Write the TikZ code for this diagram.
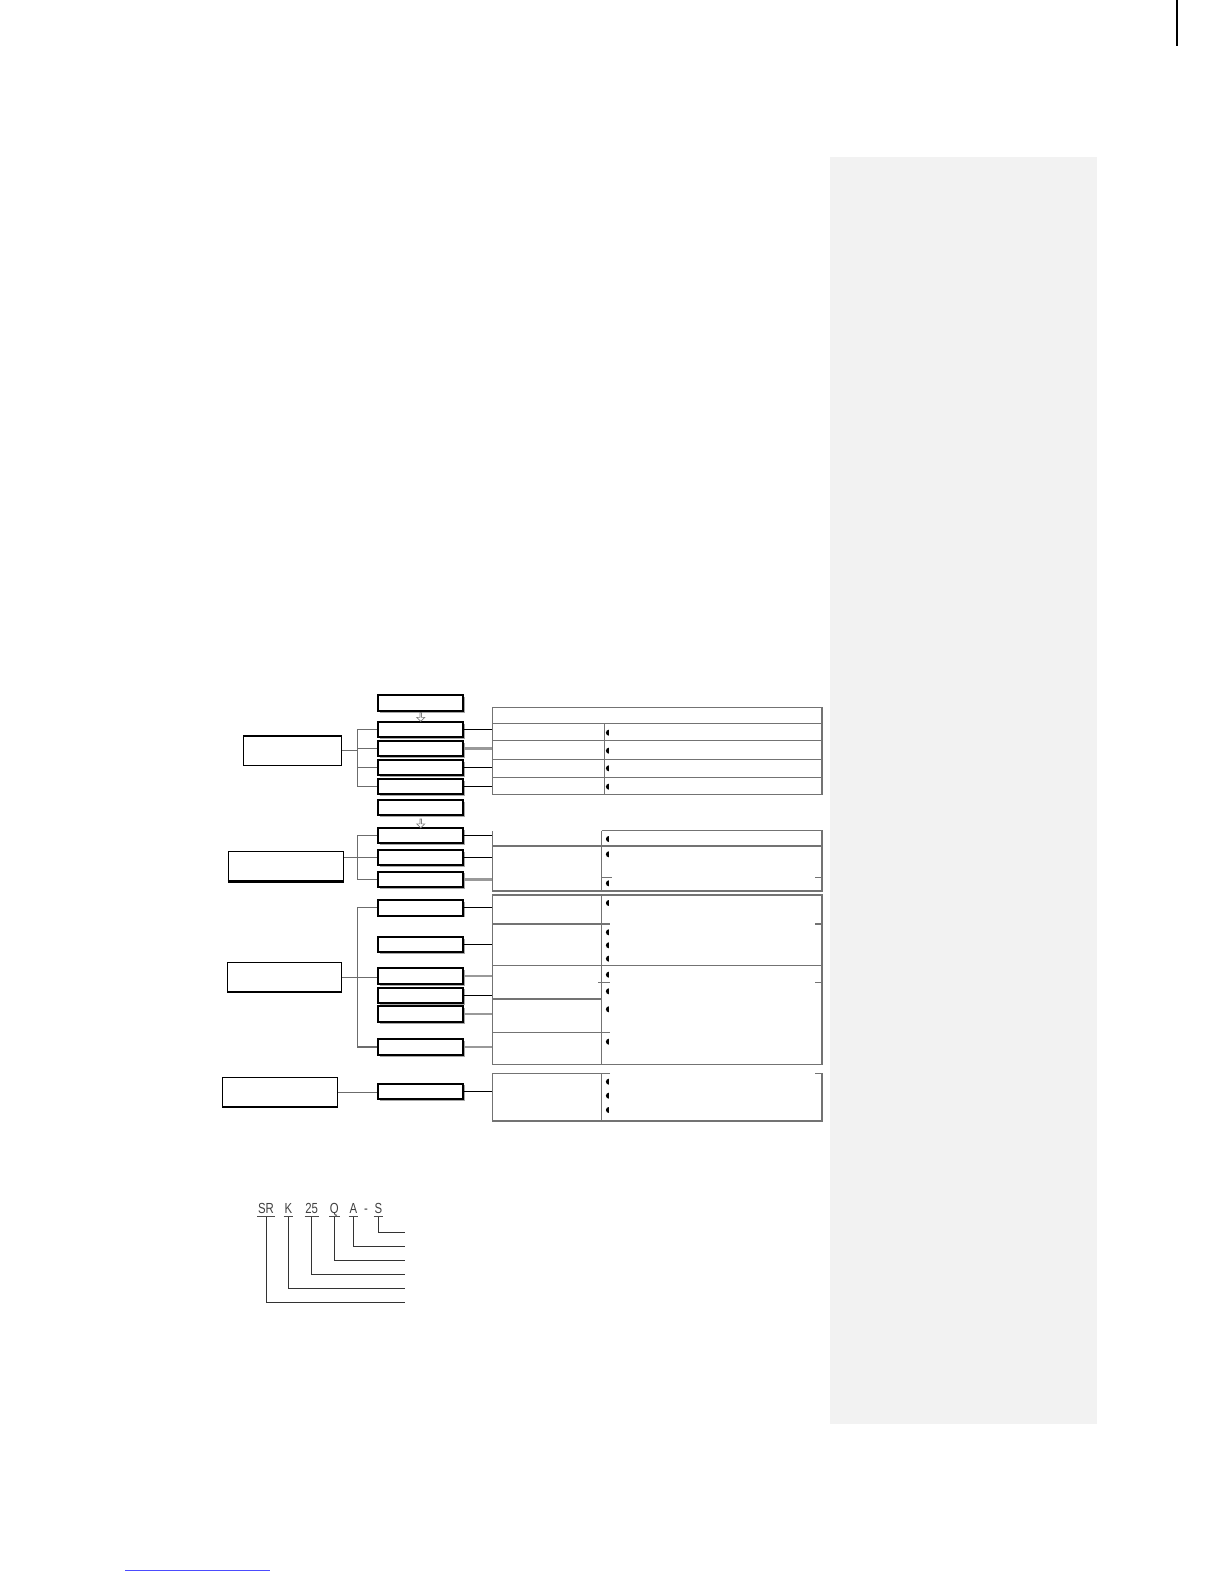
\documentclass[tikz,border=0pt]{standalone}
\usepackage{fontspec}
\newfontfamily\codefont[FakeStretch=0.78]{Liberation Sans}
\usetikzlibrary{positioning}
\usetikzlibrary{shapes.arrows, shadows}
\tikzset{
  unit/.style={draw,fill=white,line width=1pt,minimum width=42.5pt,minimum height=7.8pt,inner sep=0pt,
    drop shadow={shadow xshift=0.9pt,shadow yshift=-0.9pt,fill=gray!70,opacity=1}},
  group/.style={draw,fill=white,line width=0.7pt,minimum height=14.6pt,inner sep=0pt},
  brace/.style={gray!85!black,line width=0.6pt},
  link/.style={black,line width=0.6pt},
  glink/.style={gray!80,line width=1.2pt},
  grid/.style={gray!90!black,line width=0.55pt},
  down/.style={single arrow,draw=gray,line width=0.35pt,shape border rotate=270,minimum height=4.4pt,
    minimum width=4pt,single arrow head extend=0.7pt,inner sep=0pt},
  code/.style={font=\codefont\fontsize{7.3}{8}\selectfont,text=black!75,inner xsep=0.2pt,inner ysep=1.2pt,
    text depth=0pt,anchor=south},
  bul/.pic={\fill (0.3pt,1.5pt) arc[start angle=90,end angle=270,radius=1.5pt] -- cycle;}
}
\begin{document}
\begin{tikzpicture}[x=0.5pt,y=-0.5pt]
\useasboundingbox (0,0) rectangle (1224,1584);
\fill[gray!10] (830,157) rectangle (1097,1424);
\draw[line width=0.8pt] (1177,0) -- (1177,46);
\draw[blue!70,line width=0.4pt] (125,1570) -- (270,1570);

% unit boxes
\node[unit] (head) at (420.7,703) {};
\node[unit] (r1) at (420.7,729.5) {};
\node[unit] (r2) at (420.7,748.5) {};
\node[unit] (r3) at (420.7,767.5) {};
\node[unit] (r4) at (420.7,786.5) {};
\node[unit] (mid) at (420.7,807.5) {};
\node[unit] (r5) at (420.7,835.5) {};
\node[unit] (r6) at (420.7,857.5) {};
\node[unit] (r7) at (420.7,879.3) {};
\node[unit] (r8) at (420.7,907.7) {};
\node[unit] (r9) at (420.7,944.5) {};
\node[unit] (r10) at (420.7,976.2) {};
\node[unit] (r11) at (420.7,995.3) {};
\node[unit] (r12) at (420.7,1014) {};
\node[unit] (r13) at (420.7,1047) {};
\node[unit] (r14) at (420.7,1091.3) {};
\node[down,below=0.2pt of head] (d1) {};
\node[down,below=1.2pt of mid] (d2) {};

% group boxes
\node[group,minimum width=49.2pt,line width=0.6pt] (g1) at (292.5,750.5) {};
\node[group,minimum width=57.7pt] (g2) at (286,866) {};
\draw[line width=1.4pt] (g2.south west) -- (g2.south east);
\node[group,minimum width=57.2pt] (g3) at (284.5,977.3) {};
\node[group,minimum width=57.7pt] (g4) at (280,1092.3) {};

\coordinate (k1) at (357.3,749);
\coordinate (k2) at (357.3,857.5);
\coordinate (k3) at (357.3,977.3);
\draw[brace] (r1.west) -| (k1) |- (r4.west);
\draw[brace] (r2.west) -- (r2.west -| k1) (r3.west) -- (r3.west -| k1);
\draw[brace] (g1.east) -- (g1.east -| k1);
\draw[brace] (r5.west) -| (k2) |- (r7.west);
\draw[brace] (g2.east |- r6.west) -- (r6.west);
\draw[brace] (r8.west) -| (k3) |- (r13.west);
\draw[brace] (g3.east) -- (r10.west |- g3.east);
\draw[brace] (g4.east) -- (r14.west |- g4.east);

% tables
\coordinate (t1) at (492.3,0);
\draw[grid] (492.3,707.3) rectangle (822,794.3);
\draw[grid] (492.3,723.3) -- (822,723.3) (492.3,740.7) -- (822,740.7) (492.3,759.3) -- (822,759.3) (492.3,777.3) -- (822,777.3);
\draw[grid] (604.3,723.3) -- (604.3,794.3);
\draw[grid] (601.7,830.7) -- (822,830.7) -- (822,891) -- (492.3,891) -- (492.3,830.7);
\draw[grid] (492.3,846) -- (822,846) (601.7,830.7) -- (601.7,891);
\draw[grid] (601.7,877.3) -- (612,877.3) (815,877.3) -- (822,877.3);
\draw[grid] (492.3,895) rectangle (822,1064.3);
\draw[grid] (601.7,895) -- (601.7,1064.3);
\draw[grid] (492.3,924) -- (610,924) (492.3,965.3) -- (822,965.3) (492.3,999) -- (601.7,999) (492.3,1032.3) -- (610,1032.3);
\draw[grid] (598,982.3) -- (610,982.3) (815,924) -- (822,924) (815,982.3) -- (822,982.3);
\draw[grid] (610,1073.3) -- (492.3,1073.3) -- (492.3,1121) -- (822,1121) -- (822,1073.3) -- (815,1073.3);
\draw[grid] (601.7,1073.3) -- (601.7,1121);
\foreach \y in {732.7,750.7,768.3,786.7,839,854.3,883.3,903,932.3,945.3,958.7,974.7,991.3,1009.3,1041.7,1081.7,1095.7,1110}
  \pic at (608.3,\y) {bul};

\draw[link] (r1.east) -- (r1.east -| t1);
\draw[glink] (r2.east) -- (r2.east -| t1);
\draw[link] (r3.east) -- (r3.east -| t1);
\draw[link] (r4.east) -- (r4.east -| t1);
\draw[link] (r5.east) -- (r5.east -| t1);
\draw[link] (r6.east) -- (r6.east -| t1);
\draw[glink] (r7.east) -- (r7.east -| t1);
\draw[link] (r8.east) -- (r8.east -| t1);
\draw[link] (r9.east) -- (r9.east -| t1);
\draw[glink] (r10.east) -- (r10.east -| t1);
\draw[link] (r11.east) -- (r11.east -| t1);
\draw[glink] (r12.east) -- (r12.east -| t1);
\draw[glink] (r13.east) -- (r13.east -| t1);
\draw[link] (r14.east) -- (r14.east -| t1);

% model code
\node[code] (sr) at (266,1216.7) {SR};
\node[code] (k) at (288.3,1216.7) {K};
\node[code] (num) at (311.7,1216.7) {25};
\node[code] (q) at (334.3,1216.7) {Q};
\node[code] (a) at (353.3,1216.7) {A};
\node[code] (dash) at (366,1216.7) {-};
\node[code] (s) at (378.3,1216.7) {S};
\coordinate (e1) at (405,1232.7);
\coordinate (e2) at (405,1246.7);
\coordinate (e3) at (405,1260.7);
\coordinate (e4) at (405,1274.3);
\coordinate (e5) at (405,1288.3);
\coordinate (e6) at (405,1302.3);
\draw[black!70,line width=0.5pt] (sr.south west) -- (sr.south east) (k.south west) -- (k.south east)
  (num.south west) -- (num.south east) (q.south west) -- (q.south east)
  (a.south west) -- (a.south east) (s.south west) -- (s.south east);
\draw[black!80,line width=0.5pt] (s.south) |- (e1) (a.south) |- (e2) (q.south) |- (e3)
  (num.south) |- (e4) (k.south) |- (e5) (sr.south) |- (e6);
\end{tikzpicture}
\end{document}
